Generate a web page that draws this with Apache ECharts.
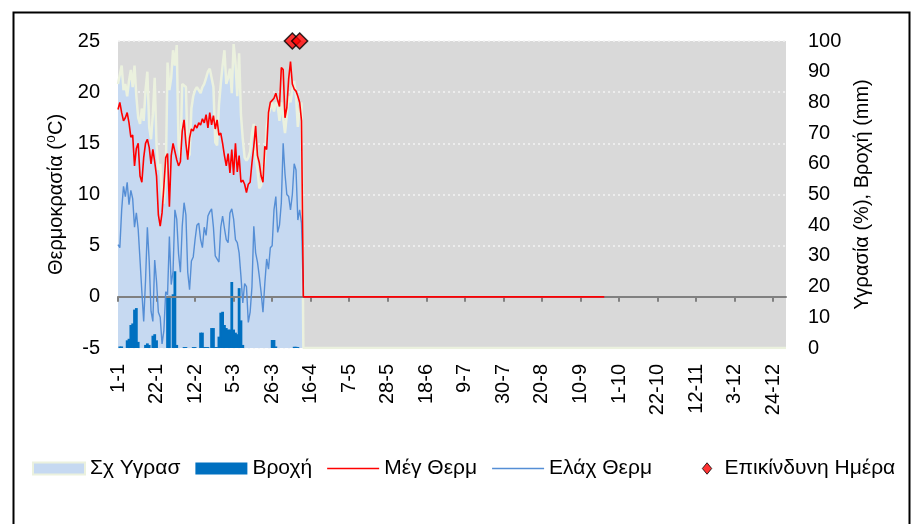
<!DOCTYPE html>
<html>
<head>
<meta charset="utf-8">
<script src="https://cdn.jsdelivr.net/npm/echarts@6/dist/echarts.min.js"></script>
<style>
  html, body { margin: 0; padding: 0; background: #fff; }
  #chart { width: 912px; height: 524px; }
</style>
</head>
<body>
<div id="chart"></div>
<script>
// days of the year (d-m), non leap year
const monthDays = [31, 28, 31, 30, 31, 30, 31, 31, 30, 31, 30, 31];
const days = [];
monthDays.forEach((n, m) => { for (let d = 1; d <= n; d++) days.push(d + '-' + (m + 1)); });

// measured values from 1-1 to 11-4
const maxTemp = [18.3, 19.0, 18.0, 17.2, 17.5, 18.0, 17.0, 15.6, 15.8, 12.8, 14.5, 15.0, 11.8, 11.2, 13.6, 15.0, 15.4, 14.6, 13.0, 14.4,
  13.2, 11.8, 8.0, 6.9, 8.2, 10.8, 13.6, 14.0, 8.8, 13.8, 15.0, 14.2, 13.4, 12.8, 13.2, 16.2, 17.3, 15.0, 13.4, 15.5,
  16.4, 16.2, 16.8, 16.5, 17.0, 16.8, 17.4, 17.0, 17.8, 16.5, 18.0, 16.8, 17.7, 16.4, 17.3, 15.8, 16.0, 15.0, 13.8, 12.8,
  14.0, 12.1, 14.4, 11.9, 15.0, 12.2, 13.8, 11.2, 11.4, 11.0, 10.2, 11.0, 11.2, 13.1, 14.7, 16.7, 13.8, 13.1, 11.8, 11.2,
  14.7, 14.4, 18.0, 19.0, 19.2, 19.4, 19.9, 19.2, 18.6, 22.4, 22.2, 17.5, 18.5, 21.3, 23.0, 20.8, 20.3, 20.1, 19.6, 19.0, 17.2];
const minTemp = [5.1, 4.8, 8.5, 10.8, 9.8, 11.2, 9.0, 10.4, 9.6, 6.8, 8.2, 6.6, 3.6, 0.5, -2.4, 1.6, 6.8, 3.5, -1.4, -2.4,
  3.6, 1.5, -1.5, -2.0, -4.6, -3.3, 0.5, 0.2, 5.9, 1.2, 2.5, 8.5, 7.6, 4.2, 2.4, 6.9, 9.2, 8.0, 2.4, 0.7,
  3.5, 3.9, 5.6, 7.0, 7.2, 5.6, 4.8, 6.8, 6.0, 7.9, 8.3, 8.6, 6.8, 4.0, 4.0, 3.4, 6.8, 7.9, 6.7, 5.6,
  5.3, 8.2, 8.6, 7.6, 5.6, 5.3, 4.3, 2.0, -0.6, 1.3, 1.0, -2.5, -1.5, 1.0, 6.9, 4.3, 3.4, 2.0, 0.4, -1.5,
  1.3, 3.7, 2.7, 4.8, 5.0, 8.5, 9.8, 6.3, 7.0, 9.2, 15.0, 12.0, 10.0, 9.8, 8.5, 10.0, 13.0, 12.4, 7.5, 8.5, 7.2];
const humidity = [86, 89, 92, 84, 86, 82, 87, 90.6, 85, 92, 82, 75, 73, 78, 74, 84, 90, 72, 68, 76,
  88, 66, 58, 60, 50, 47, 55, 93, 84, 88, 97, 92, 98.7, 66, 62, 86, 86, 85, 62, 63,
  78, 82, 84, 85, 84, 83, 85, 86, 88, 90, 91, 91, 85, 67, 66, 79, 86, 92, 97, 86,
  88, 91, 83, 99, 93, 82, 96, 76, 68, 62, 61, 62, 64, 70, 73, 62, 58, 52, 53, 57,
  61, 72, 76, 78, 80, 77, 80, 79, 74, 80, 75, 70, 76, 82, 80, 84, 87, 82, 72, 78, 80];
const rain = [0, 0.5, 0.5, 0, 0, 2.5, 3, 7.5, 8, 12.5, 13, 2, 0, 0, 0, 1, 1.5, 1, 0, 4,
  4.5, 2.5, 0, 0, 0, 0, 0, 16.5, 17, 0, 17.5, 25, 1, 0, 0, 0, 0.3, 0.3, 0, 0,
  0, 0.3, 0.3, 0, 0, 5, 5, 0.3, 0.3, 0.3, 0, 6.5, 6.5, 0.3, 0.3, 3.7, 11.5, 11.8, 7.5, 6.5,
  6, 6, 21.5, 6, 5, 4.5, 19.5, 9, 1, 0, 0, 0, 0, 0, 0, 0, 0, 0, 0, 0,
  0, 0, 0, 0, 2.6, 2.6, 0.5, 0, 0, 0, 0, 0, 0, 0, 0, 0, 0.4, 0.4, 0.3, 0, 0];
// after the last reading the logger reports zeros
const tempZeroUntil = '23-9';
const humZeroUntil = '31-12';
const dangerDays = ['6-4', '10-4'];
const dangerLevel = 25;

const leftTicks = { min: -5, max: 25, step: 5 };
const rightTicks = { min: 0, max: 100, step: 10 };

function padZeros(arr, untilDay) {
  const out = arr.slice();
  const end = days.indexOf(untilDay);
  while (out.length <= end) out.push(0);
  return out;
}

const font = "'Liberation Sans', Arial, 'DejaVu Sans', sans-serif";
// legend icons: thin line, and a small diamond sitting near the text
const lineIcon = 'path://M0,0 H50 V1.6 H0 Z';
const diamondIcon = 'path://M0,6.5 L0,6.5 Z M50,6.5 L50,6.5 Z M38,1 L42.5,6.5 L38,12 L33.5,6.5 Z';

const chart = echarts.init(document.getElementById('chart'));

chart.setOption({
  animation: false,
  textStyle: { fontFamily: font, color: '#000' },
  graphic: [{
    type: 'rect', left: 11, top: 10, z: -10,
    shape: { width: 896, height: 530 },
    style: { fill: 'none', stroke: '#000', lineWidth: 2 }
  }],
  grid: {
    left: 118, right: 126, top: 41, bottom: 176,
    show: true, backgroundColor: '#d9d9d9', borderWidth: 0
  },
  legend: {
    top: 453, left: 27,
    itemWidth: 52, itemHeight: 12, itemGap: 15,
    symbolKeepAspect: true,
    textStyle: { fontFamily: font, fontSize: 21, color: '#000' },
    data: [
      { name: 'Σχ Υγρασ', icon: 'rect', itemStyle: { color: '#c6d9f1', borderColor: '#ebf1de', borderWidth: 2 } },
      { name: 'Βροχή', icon: 'rect', itemStyle: { color: '#0070c0' } },
      { name: 'Μέγ Θερμ', icon: lineIcon, itemStyle: { color: '#ff0000' } },
      { name: 'Ελάχ Θερμ', icon: lineIcon, itemStyle: { color: '#558ed5' } },
      { name: 'Επικίνδυνη Ημέρα', icon: diamondIcon, itemStyle: { color: '#ff0000', borderColor: '#000', borderWidth: 1 } }
    ]
  },
  xAxis: [{
    type: 'category', data: days, boundaryGap: false,
    axisLine: { show: false, onZero: false },
    axisTick: { show: false },
    axisLabel: { interval: 20, rotate: 90, fontSize: 20, margin: 16, color: '#000', fontFamily: font },
    splitLine: { show: false }
  }, {
    type: 'category', data: days, boundaryGap: false, position: 'bottom', z: 3,
    axisLine: { show: true, onZero: true, onZeroAxisIndex: 0, lineStyle: { color: '#808080', width: 2 } },
    axisTick: { show: true, interval: 20, length: 5, lineStyle: { color: '#808080', width: 2 } },
    axisLabel: { show: false },
    splitLine: { show: false }
  }],
  yAxis: [{
    type: 'value', min: leftTicks.min, max: leftTicks.max, interval: leftTicks.step,
    name: 'Θερμοκρασία (⁰C)', nameLocation: 'middle', nameRotate: 90, nameGap: 42,
    nameTextStyle: { fontSize: 20, fontFamily: font, color: '#000' },
    axisLine: { show: false }, axisTick: { show: false },
    axisLabel: { fontSize: 20, margin: 18, color: '#000', fontFamily: font },
    splitLine: { show: true, lineStyle: { color: '#f4f4f4', type: [2, 3], width: 1.5 } }
  }, {
    type: 'value', min: rightTicks.min, max: rightTicks.max, interval: rightTicks.step,
    name: 'Υγρασία (%), Βροχή (mm)', nameLocation: 'middle', nameRotate: 90, nameGap: 66,
    nameTextStyle: { fontSize: 20, fontFamily: font, color: '#000' },
    axisLine: { show: false }, axisTick: { show: false },
    axisLabel: { fontSize: 20, margin: 22, color: '#000', fontFamily: font },
    splitLine: { show: false }
  }],
  series: [{
    name: 'Σχ Υγρασ', type: 'line', yAxisIndex: 1,
    data: padZeros(humidity, humZeroUntil),
    symbol: 'none',
    lineStyle: { color: '#ebf1de', width: 2.5 },
    itemStyle: { color: '#c6d9f1' },
    areaStyle: { color: '#c6d9f1', opacity: 1 },
    z: 1
  }, {
    name: 'Βροχή', type: 'bar', yAxisIndex: 1,
    data: rain,
    itemStyle: { color: '#0070c0' },
    barWidth: 2.8,
    z: 2
  }, {
    name: 'Μέγ Θερμ', type: 'line', yAxisIndex: 0,
    data: padZeros(maxTemp, tempZeroUntil),
    symbol: 'none',
    lineStyle: { color: '#ff0000', width: 1.6 },
    itemStyle: { color: '#ff0000' },
    z: 5
  }, {
    name: 'Ελάχ Θερμ', type: 'line', yAxisIndex: 0,
    data: padZeros(minTemp, tempZeroUntil),
    symbol: 'none',
    lineStyle: { color: '#558ed5', width: 1.4 },
    itemStyle: { color: '#558ed5' },
    z: 4
  }, {
    name: 'Επικίνδυνη Ημέρα', type: 'scatter', yAxisIndex: 0,
    data: dangerDays.map(d => [d, dangerLevel]),
    symbol: 'diamond', symbolSize: 16,
    itemStyle: { color: '#ff0000', borderColor: '#000', borderWidth: 1.5 },
    z: 6
  }]
});
</script>
</body>
</html>
